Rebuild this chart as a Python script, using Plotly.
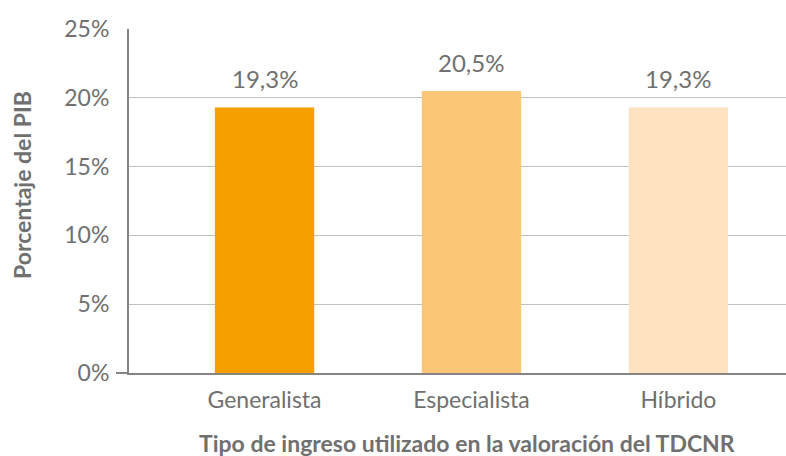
import plotly.graph_objects as go

# data
categories = ['Generalista', 'Especialista', 'Híbrido']
values = [19.3, 20.5, 19.3]
labels = ['19,3%', '20,5%', '19,3%']
bar_colors = ['#F59F00', '#FBC676', '#FDE3BF']

tick_vals = [0, 5, 10, 15, 20, 25]
tick_text = ['0%', '5%', '10%', '15%', '20%', '25%']

x_title = 'Tipo de ingreso utilizado en la valoración del TDCNR'
y_title = 'Porcentaje del PIB'

grey = '#707070'
axis_grey = '#858585'
font_main = 'Lato'

fig = go.Figure()
fig.add_trace(go.Bar(x=categories, y=values, marker_color=bar_colors,
                     marker_line_width=0, width=0.48, hoverinfo='skip'))

# value labels above the bars
for c, v, t in zip(categories, values, labels):
    fig.add_annotation(x=c, y=v, text=t, showarrow=False, yanchor='bottom',
                       yshift=12, font=dict(family=font_main, size=24, color=grey))

fig.add_annotation(text=x_title, xref='paper', yref='paper', x=0.514, y=0,
                   yshift=-70, yanchor='middle', showarrow=False,
                   font=dict(family=font_main, size=23, color=grey, weight='bold'))
fig.add_annotation(text=y_title, xref='paper', yref='paper', x=0, y=0.5, xshift=-107,
                   yshift=16, textangle=-90, xanchor='center', showarrow=False,
                   font=dict(family=font_main, size=23, color=grey, weight='bold'))

# baseline sticks out a little to the left of the y axis
fig.add_shape(type='line', xref='paper', yref='paper', xsizemode='pixel', xanchor=0,
              x0=-13, x1=0, y0=0, y1=0, line=dict(color=axis_grey, width=2))

fig.update_xaxes(type='category', range=[-0.655, 2.52], showline=True, linecolor=axis_grey,
                 linewidth=2, showgrid=False, ticks='',
                 tickfont=dict(family=font_main, size=23, color=grey),
                 ticklabelstandoff=5, fixedrange=True)
fig.update_yaxes(range=[0, 25], tickvals=tick_vals, ticktext=tick_text, showline=True,
                 linecolor=axis_grey, linewidth=2, showgrid=True, gridcolor='#C0C0C0', gridwidth=1,
                 zeroline=False, ticks='', tickfont=dict(family=font_main, size=23, color=grey),
                 ticklabelstandoff=13, fixedrange=True)

fig.update_layout(width=786, height=456, margin=dict(l=129, r=0, t=29, b=83),
                  plot_bgcolor='white', paper_bgcolor='white', showlegend=False)

# drop the default body margin so the figure fills the window
fig.write_html('out.html', config={'displayModeBar': False},
               post_script="document.body.style.margin='0';document.body.style.overflow='hidden';")
